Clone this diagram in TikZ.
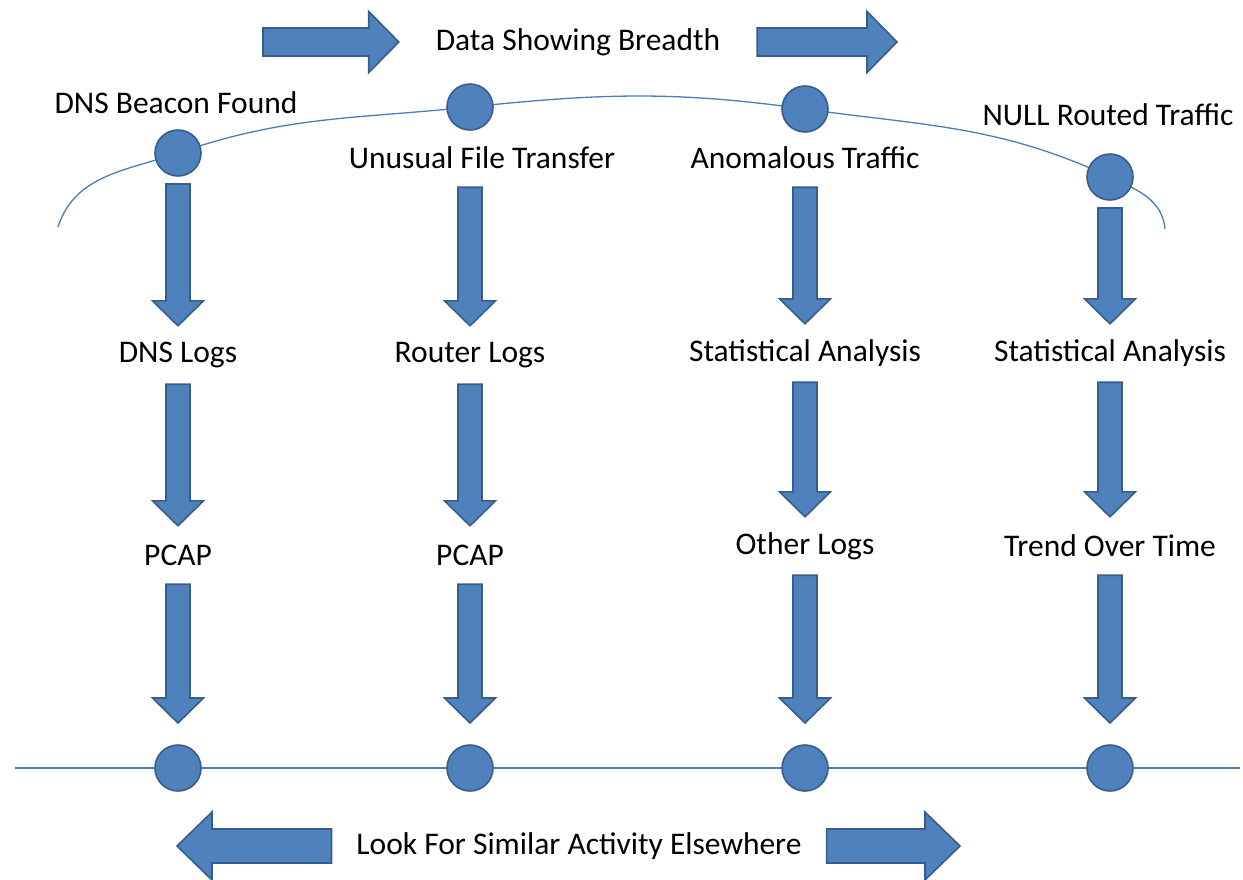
\documentclass[tikz,border=0pt]{standalone}
\usepackage{fontspec}
\setmainfont{Carlito}
\usetikzlibrary{calc,backgrounds}

\definecolor{arrowfill}{HTML}{4F81BD}
\definecolor{arrowline}{HTML}{385D8A}
\definecolor{thread}{HTML}{4A7EBB}

\tikzset{
  shaft/.store in=\shaftw, head/.store in=\headw, tiplen/.store in=\tiplen,
  shaft=12pt, head=25.5pt, tiplen=25pt,
  blockarrow/.style={draw=arrowline, fill=arrowfill, line width=1.6pt,
    to path={let \p1=($(\tikztotarget)!\tiplen!(\tikztostart)$) in
      ($(\tikztostart)!\shaftw!90:(\tikztotarget)$)
      -- ($(\p1)!\shaftw!-90:(\tikztostart)$)
      -- ($(\p1)!\headw!-90:(\tikztostart)$)
      -- (\tikztotarget)
      -- ($(\p1)!\headw!90:(\tikztostart)$)
      -- ($(\p1)!\shaftw!90:(\tikztostart)$)
      -- ($(\tikztostart)!\shaftw!-90:(\tikztotarget)$) -- cycle}},
  dot/.style={circle, draw=arrowline, fill=arrowfill, line width=1.6pt,
    minimum size=46pt, inner sep=0pt, outer sep=8pt},
  stage/.style={inner sep=0pt, minimum height=58pt},
  banner/.style={inner sep=0pt, outer xsep=#1},
  thread/.style={draw=thread, line width=1.3pt}
}

\begin{document}
\begin{tikzpicture}[x=1pt, y=-1pt, every node/.style={font=\fontsize{31.5}{36}\selectfont}]
    \useasboundingbox (0,0) rectangle (1243,879);

    % Breadth
    \node[banner=37pt] (breadth) at (578,42) {Data Showing Breadth};
    \coordinate (breadthL) at (263,42);
    \coordinate (breadthR) at (897,42);
    \draw[blockarrow, shaft=14pt, head=30.5pt, tiplen=30pt] (breadthL) to (breadth.west);
    \draw[blockarrow, shaft=14pt, head=30.5pt, tiplen=30pt] (breadth.east) to (breadthR);

    % Starting points
    \node[dot] (beacon) at (178,153) {};
    \node[dot] (transfer) at (470,107) {};
    \node[dot] (anomal) at (805,109) {};
    \node[dot] (nullrt) at (1110,177) {};
    \node (beaconT) at (176,103) {DNS Beacon Found};
    \node[stage] (transferT) at (482,158) {Unusual File Transfer};
    \node[stage] (anomalT) at (805,158) {Anomalous Traffic};
    \node (nullrtT) at (1108,115) {NULL Routed Traffic};

    % Sources
    \node[stage] (dnslogs) at (178,355) {DNS Logs};
    \node[stage] (router) at (470,355) {Router Logs};
    \node[stage] (stats1) at (805,353) {Statistical Analysis};
    \node[stage] (stats2) at (1110,353) {Statistical Analysis};
    \node[stage] (pcap1) at (178,555) {PCAP};
    \node[stage] (pcap2) at (470,555) {PCAP};
    \node[stage] (other) at (805,546) {Other Logs};
    \node[stage] (trend) at (1110,546) {Trend Over Time};

    % Elsewhere
    \node[dot, outer sep=22pt] (end1) at (178,768) {};
    \node[dot, outer sep=22pt] (end2) at (470,768) {};
    \node[dot, outer sep=22pt] (end3) at (805,768) {};
    \node[dot, outer sep=22pt] (end4) at (1110,768) {};
    \coordinate (lineL) at (15,768);
    \coordinate (lineR) at (1240,768);

    \node[banner=25pt] (look) at (579,846) {Look For Similar Activity Elsewhere};
    \coordinate (lookL) at (177,846);
    \coordinate (lookR) at (960,846);
    \draw[blockarrow, shaft=17pt, head=34pt, tiplen=35pt] (look.west) to (lookL);
    \draw[blockarrow, shaft=17pt, head=34pt, tiplen=35pt] (look.east) to (lookR);

    % Columns
    \draw[blockarrow] (beacon.south) to (dnslogs.north);
    \draw[blockarrow] (dnslogs.south) to (pcap1.north);
    \draw[blockarrow] (pcap1.south) to (end1.north);
    \draw[blockarrow] (transferT.south -| router) to (router.north);
    \draw[blockarrow] (router.south) to (pcap2.north);
    \draw[blockarrow] (pcap2.south) to (end2.north);
    \draw[blockarrow] (anomalT.south) to (stats1.north);
    \draw[blockarrow] (stats1.south) to (other.north);
    \draw[blockarrow] (other.south) to (end3.north);
    \draw[blockarrow] (nullrt.south) to (stats2.north);
    \draw[blockarrow] (stats2.south) to (trend.north);
    \draw[blockarrow] (trend.south) to (end4.north);

    \coordinate (arcL) at (58,227);
    \coordinate (arcR) at (1165,229);
    \begin{scope}[on background layer]
        \draw[thread] (arcL) to[out=72, in=199] (beacon.center)
            to[out=19, in=186] (transfer.center)
            to[out=6, in=172] (anomal.center)
            to[out=-8, in=155] (nullrt.center)
            to[out=-25, in=95] (arcR);
        \draw[thread] (lineL) -- (lineR);
    \end{scope}
\end{tikzpicture}
\end{document}
